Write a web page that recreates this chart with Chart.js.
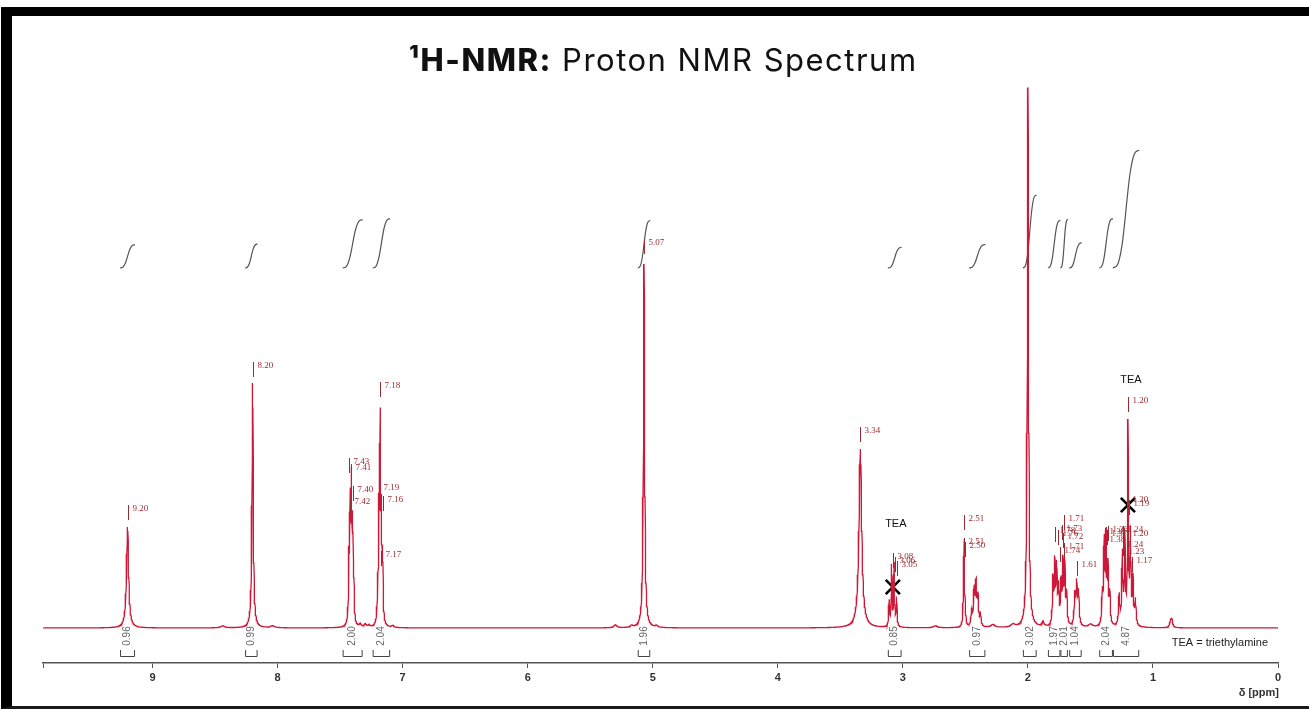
<!DOCTYPE html>
<html lang="en">
<head>
<meta charset="utf-8">
<title>1H-NMR Proton NMR Spectrum</title>
<script src="https://cdn.jsdelivr.net/npm/chart.js@4.4.1/dist/chart.umd.min.js"></script>
<style>
  html, body { margin: 0; padding: 0; background: #fff; }
  #page { position: relative; width: 1309px; height: 709px; overflow: hidden; }
  #frame { position: absolute; left: 1px; top: 7px; width: 1320px; height: 690px;
           border-top: 9px solid #000; border-left: 11px solid #000; border-bottom: 3px solid #1a1a1a; }
  #title { position: absolute; top: 42px; left: 0; width: 1326px; text-align: center;
           font-family: Inter, "Open Sans", sans-serif; font-size: 31px; line-height: 36px;
           letter-spacing: 1.5px; color: #111; }
  #title b { font-weight: 800; }
  #chartBox { position: absolute; left: 0; top: 0; width: 1309px; height: 709px; }
</style>
</head>
<body>
<div id="page">
  <div id="frame"></div>
  <div id="chartBox"><canvas id="nmrChart"></canvas></div>
  <div id="title"><b>¹H-NMR:</b> Proton NMR Spectrum</div>
</div>

<script>
// peak list: shift (ppm), height, half width (ppm)
const peakPpm = [
  9.20, 8.44, 8.20, 8.04,
  7.43, 7.42, 7.41, 7.40, 7.39, 7.34, 7.30, 7.27,
  7.20, 7.19, 7.18, 7.17, 7.16, 7.08,
  5.30, 5.17, 5.07, 4.97,
  3.34, 3.11, 3.09, 3.07, 3.05, 2.74,
  2.52, 2.51, 2.50, 2.45, 2.43, 2.415, 2.40, 2.38, 2.28, 2.12,
  2.00, 1.88,
  1.80, 1.785, 1.77, 1.755, 1.735, 1.72, 1.705, 1.69,
  1.625, 1.61, 1.595, 1.50,
  1.405, 1.39, 1.375, 1.36, 1.345,
  1.27, 1.245, 1.225, 1.20, 1.18, 1.16, 1.14,
  0.86, 0.85
];
const peakHeight = [
  101, 2, 245, 2,
  60, 110, 130, 90, 30, 3, 3, 2,
  30, 100, 190, 95, 60, 2,
  3, 2, 364, 2,
  179, 25, 60, 62, 28, 2,
  12, 86, 14, 15, 35, 40, 28, 12, 3, 3,
  540, 5,
  45, 60, 55, 35, 40, 60, 58, 30,
  30, 40, 32, 3,
  30, 80, 85, 55, 30,
  30, 70, 85, 198, 90, 45, 25,
  5, 8
];
const peakWidth = [
  0.010, 0.02, 0.006, 0.02,
  0.004, 0.004, 0.004, 0.004, 0.004, 0.01, 0.01, 0.01,
  0.004, 0.004, 0.004, 0.004, 0.004, 0.01,
  0.015, 0.01, 0.006, 0.01,
  0.013, 0.004, 0.004, 0.004, 0.004, 0.02,
  0.003, 0.004, 0.003, 0.006, 0.006, 0.006, 0.006, 0.006, 0.02, 0.02,
  0.006, 0.01,
  0.005, 0.005, 0.005, 0.005, 0.005, 0.005, 0.005, 0.005,
  0.006, 0.006, 0.006, 0.02,
  0.005, 0.005, 0.005, 0.005, 0.005,
  0.006, 0.005, 0.005, 0.004, 0.005, 0.005, 0.006,
  0.008, 0.008
];

// integration regions (from ppm, to ppm) and their values
const integralFrom  = [9.26, 8.26, 7.48, 7.24, 5.12, 3.12, 2.47, 2.04, 1.84, 1.74, 1.67, 1.43, 1.32];
const integralTo    = [9.14, 8.16, 7.32, 7.10, 5.02, 3.01, 2.34, 1.93, 1.74, 1.68, 1.57, 1.32, 1.11];
const integralValue = [0.96, 0.99, 2.00, 2.04, 1.96, 0.85, 0.97, 3.02, 1.97, 2.01, 1.04, 2.04, 4.87];

// peak pick labels: text, shift of the marker line, level of the marker top
const pickText  = ['9.20', '8.20', '7.43', '7.41', '7.40', '7.42', '7.18', '7.19', '7.16', '7.17', '5.07', '3.34',
                   '3.08', '3.06', '3.05', '2.51', '2.51', '2.50', '1.71', '1.78', '1.73', '1.76', '1.72', '1.71', '1.74',
                   '1.61', '1.36', '1.38', '1.37', '1.38', '1.24', '1.20', '1.24', '1.23', '1.17', '1.20', '1.20', '1.19'];
const pickPpm   = [9.20, 8.20, 7.43, 7.41, 7.40, 7.42, 7.18, 7.19, 7.16, 7.17, 5.07, 3.34,
                   3.08, 3.06, 3.05, 2.51, 2.51, 2.50, 1.71, 1.78, 1.73, 1.76, 1.72, 1.71, 1.74,
                   1.61, 1.36, 1.38, 1.37, 1.38, 1.24, 1.20, 1.24, 1.23, 1.17, 1.20, 1.20, 1.19];
const pickLevel = [123, 266, 170, 164, 142, 130, 246, 144, 132, 77, 389, 201,
                   75, 71, 67, 113, 90, 86, 113, 101, 103, 98, 95, 85, 81,
                   67, 102, 100, 98, 92, 102, 98, 87, 80, 71, 231, 132, 128];

// solvent / impurity markers
const teaPpm   = [3.08, 1.20];
const teaLevel = [41, 123];
const teaTextLevel = [104, 248];

const xTicks = [0, 1, 2, 3, 4, 5, 6, 7, 8, 9];

const integralBase = 360;
const integralScale = 24.2;

function spectrumData() {
  const xs = [];
  for (let i = 0; i <= 4940; i++) xs.push(i * 0.002);
  peakPpm.forEach(p => xs.push(p));
  xs.sort((a, b) => a - b);
  return xs.map(x => {
    let y = 0;
    for (let k = 0; k < peakPpm.length; k++) {
      const d = (x - peakPpm[k]) / peakWidth[k];
      y += peakHeight[k] / (1 + d * d);
    }
    return { x: x, y: y };
  });
}

function integralData(i) {
  const a = integralFrom[i], b = integralTo[i];
  const h = integralValue[i] * integralScale;
  const t = [0, 0.18, 0.35, 0.65, 0.82, 1];
  const f = [0, 0.03, 0.2, 0.8, 0.97, 1];
  return t.map((tt, j) => ({ x: a - tt * (a - b), y: integralBase + f[j] * h }));
}

const datasets = [{
  label: 'spectrum',
  data: spectrumData(),
  borderColor: '#cf1838',
  borderWidth: 1.3,
  pointRadius: 0,
  tension: 0
}];
integralValue.forEach((v, i) => {
  datasets.push({
    label: 'integral ' + v,
    data: integralData(i),
    borderColor: '#555',
    borderWidth: 1.2,
    pointRadius: 0,
    cubicInterpolationMode: 'monotone'
  });
});
datasets.push({
  label: 'TEA',
  data: teaPpm.map((p, i) => ({ x: p, y: teaLevel[i] })),
  showLine: false,
  pointStyle: 'crossRot',
  pointRadius: 10,
  borderWidth: 2.6,
  borderColor: '#000',
  backgroundColor: '#000'
});

// integral values, brackets, peak picks and notes
const annotations = {
  id: 'nmrAnnotations',
  afterDatasetsDraw(chart) {
    const ctx = chart.ctx;
    const xs = chart.scales.x, ys = chart.scales.y;
    ctx.save();

    // integral brackets and rotated values
    ctx.strokeStyle = '#444';
    ctx.lineWidth = 1;
    ctx.fillStyle = '#666';
    ctx.font = '10px "Liberation Sans", Arial, sans-serif';
    integralValue.forEach((v, i) => {
      const x1 = xs.getPixelForValue(integralFrom[i]);
      const x2 = xs.getPixelForValue(integralTo[i]);
      const yb = ys.getPixelForValue(-28);
      const yt = ys.getPixelForValue(-22);
      ctx.beginPath();
      ctx.moveTo(x1 + 0.5, yt); ctx.lineTo(x1 + 0.5, yb + 0.5);
      ctx.lineTo(x2 - 0.5, yb + 0.5); ctx.lineTo(x2 - 0.5, yt);
      ctx.stroke();
      ctx.save();
      ctx.translate((x1 + x2) / 2, ys.getPixelForValue(-8));
      ctx.rotate(-Math.PI / 2);
      ctx.textAlign = 'center';
      ctx.textBaseline = 'middle';
      ctx.fillText(v.toFixed(2), 0, 0);
      ctx.restore();
    });

    // peak picks
    ctx.strokeStyle = '#9e2a2f';
    ctx.fillStyle = '#9e2a2f';
    ctx.font = '9px "Liberation Serif", "Times New Roman", serif';
    ctx.textAlign = 'left';
    ctx.textBaseline = 'middle';
    pickText.forEach((t, i) => {
      const x = Math.round(xs.getPixelForValue(pickPpm[i])) + 0.5;
      const y = ys.getPixelForValue(pickLevel[i]);
      ctx.beginPath();
      ctx.moveTo(x, y); ctx.lineTo(x, y + 15);
      ctx.stroke();
      ctx.fillText(t, x + 4, y + 4);
    });

    // TEA notes
    ctx.fillStyle = '#111';
    ctx.font = '11px "Liberation Sans", Arial, sans-serif';
    ctx.textAlign = 'center';
    teaPpm.forEach((p, i) => {
      ctx.fillText('TEA', xs.getPixelForValue(p) + 3, ys.getPixelForValue(teaTextLevel[i]));
    });
    ctx.textAlign = 'right';
    ctx.fillStyle = '#222';
    ctx.fillText('TEA = triethylamine', xs.getPixelForValue(0.08), ys.getPixelForValue(-15));

    // axis unit, right-aligned under the 0 tick
    ctx.fillStyle = '#333';
    ctx.font = 'bold 11px "Liberation Sans Narrow", "Liberation Sans", Arial, sans-serif';
    ctx.fillText('δ [ppm]', xs.getPixelForValue(0) + 1, xs.bottom - 16);
    ctx.restore();
  }
};

const ctx = document.getElementById('nmrChart').getContext('2d');
const nmrChart = new Chart(ctx, {
  type: 'line',
  data: { datasets: datasets },
  options: {
    responsive: true,
    maintainAspectRatio: false,
    animation: false,
    events: [],
    layout: { padding: { top: 80, left: 43, right: 31, bottom: 0 } },
    plugins: { legend: { display: false }, tooltip: { enabled: false }, title: { display: false } },
    scales: {
      x: {
        type: 'linear',
        reverse: true,
        min: 0,
        max: 9.876,
        afterFit: (scale) => { scale.height = 46; },
        afterBuildTicks: (scale) => {
          scale.ticks = [{ value: 9.876 }].concat(xTicks.slice().reverse().map(v => ({ value: v })));
        },
        ticks: {
          autoSkip: false,
          maxRotation: 0,
          padding: 3,
          color: '#333',
          font: { family: '"Liberation Sans Narrow", "Liberation Sans", Arial, sans-serif', size: 11, weight: 'bold' },
          callback: (v) => Number.isInteger(v) ? String(v) : ''
        },
        grid: { display: true, drawOnChartArea: false, drawTicks: true, tickLength: 5, color: '#555', lineWidth: 1 },
        border: { display: true, color: '#555', width: 1.5 }
      },
      y: {
        display: false,
        min: -35,
        max: 548
      }
    }
  },
  plugins: [annotations]
});
</script>
</body>
</html>
